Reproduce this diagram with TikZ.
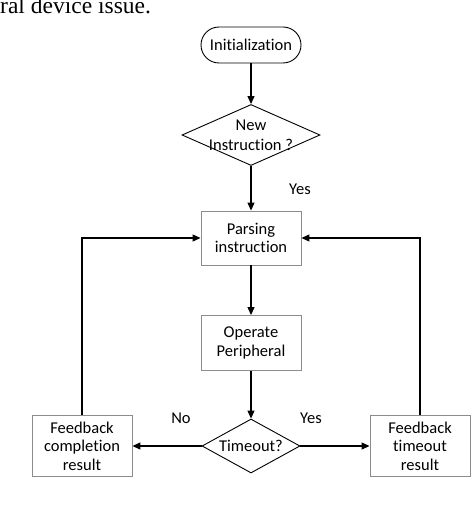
\documentclass[tikz,border=0pt]{standalone}
\usepackage{fontspec}
\setmainfont{Carlito}[Ligatures=NoCommon]
\newfontfamily\pagefont{Liberation Serif}
\usetikzlibrary{shapes.geometric,arrows.meta}
\tikzset
{
	my box/.style={draw=black!45,line width=0.9pt,minimum width=100pt,inner sep=0pt,align=center},
	my terminal/.style={draw,line width=0.9pt,rounded corners=18pt,minimum width=100pt,minimum height=36pt,inner sep=0pt},
	my diamond/.style={diamond,draw,line width=0.9pt,inner sep=0pt},
	my line/.style={line width=1.2pt,-{Triangle[length=8pt,width=7pt]}},
	my label/.style={inner sep=0pt}
}

\begin{document}
\begin{tikzpicture}[x=1pt,y=-1pt,font=\fontsize{16.5}{18.5}\selectfont,line join=miter]
		\useasboundingbox (0,0) rectangle (474,513);
		% cut-off line of the page above
		\begin{scope}
			\clip (0,0) rectangle (474,513);
			\node[anchor=base west,inner sep=0pt,font=\pagefont\fontsize{23.5}{26}\selectfont] (page) at (0,14) {ral device issue.};
		\end{scope}
		% nodes
		\node[my terminal] (init) at (251,45) {Initialization};
		\node[my diamond,minimum width=138pt,minimum height=61pt] (new) at (251,135) {};
		\node[align=center,inner sep=0pt,font=\fontsize{16.5}{20}\selectfont] (newtext) at (251,135) {New\\Instruction ?};
		\node[my box,minimum height=54pt] (parse) at (251,238) {Parsing\\instruction};
		\node[my box,minimum height=55pt] (operate) at (251,343) {Operate\\Peripheral};
		\node[my diamond,minimum width=98pt,minimum height=54pt] (timeout) at (251,446) {};
		\node[inner sep=0pt] (timeouttext) at (251,446) {Timeout?};
		\node[my box,minimum height=61pt] (done) at (82,446) {Feedback\\completion\\result};
		\node[my box,minimum height=61pt] (late) at (420,446) {Feedback\\timeout\\result};
		% labels
		\node[my label] (yes1) at (300,189) {Yes};
		\node[my label] (no) at (181,418) {No};
		\node[my label] (yes2) at (311,418) {Yes};
		% arrows
		\draw[my line] (init) -- (new);
		\draw[my line] (new) -- (parse);
		\draw[my line] (parse) -- (operate);
		\draw[my line] (operate) -- (timeout);
		\draw[my line] (timeout) -- (done);
		\draw[my line] (timeout) -- (late);
		\draw[my line] (done.north) |- (parse.west);
		\draw[my line] (late.north) |- (parse.east);
	\end{tikzpicture}
\end{document}
